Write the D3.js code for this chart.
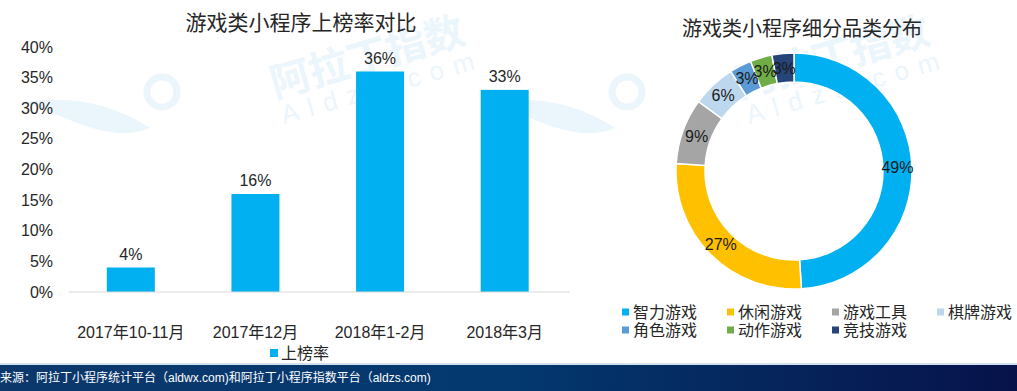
<!DOCTYPE html>
<html>
<head>
<meta charset="utf-8">
<script src="https://cdn.jsdelivr.net/npm/d3@7"></script>
<style>
  body { margin: 0; background: #fff; }
  svg { display: block; font-family: "Liberation Sans", Arial, "Noto Sans CJK SC", sans-serif; }
</style>
</head>
<body>
<div id="chart"></div>
<script>
// bar chart data
const periods = ["2017年10-11月", "2017年12月", "2018年1-2月", "2018年3月"];
const rankRate = [4, 16, 36, 33];
const yTicks = [0, 5, 10, 15, 20, 25, 30, 35, 40];

// donut data
const genres = ["智力游戏", "休闲游戏", "游戏工具", "棋牌游戏", "角色游戏", "动作游戏", "竞技游戏"];
const genreShare = [49, 27, 9, 6, 3, 3, 3];
const genreColors = ["#00b0f0", "#ffc000", "#a5a5a5", "#bdd7ee", "#5b9bd5", "#70ad47", "#264478"];

const W = 1017, H = 391;
const svg = d3.select("#chart").append("svg")
    .attr("width", W)
    .attr("height", H);

// faint watermarks behind the charts
function watermark(dx) {
  const g = svg.append("g").attr("transform", `translate(${dx},0)`).attr("fill", "#ebf5fc");
  g.append("circle")
      .attr("cx", 162).attr("cy", 92).attr("r", 15)
      .attr("fill", "none").attr("stroke", "#ebf5fc").attr("stroke-width", 7);
  g.append("path")
      .attr("d", "M25,102 Q95,92 150,128 Q120,142 65,118 Z");
  g.append("text")
      .attr("transform", "translate(275,98) rotate(-16)")
      .attr("font-size", 40).attr("font-weight", "bold")
      .attr("font-family", "Noto Sans CJK SC")
      .text("阿拉丁指数");
  g.append("text")
      .attr("transform", "translate(284,124) rotate(-16)")
      .attr("font-size", 26).attr("letter-spacing", 10)
      .text("Aldzs.com");
}
watermark(0);
watermark(465);

// ---------- left: bar chart ----------
const x = d3.scaleBand()
    .domain(periods)
    .range([68.5, 567])
    .paddingInner(0.615)
    .paddingOuter(0.3075);

const y = d3.scaleLinear()
    .domain([0, 40])
    .range([292, 47]);

svg.append("text")
    .attr("x", 301).attr("y", 30)
    .attr("text-anchor", "middle")
    .attr("font-size", 21).attr("fill", "#262626")
    .attr("font-family", "Noto Sans CJK SC")
    .text("游戏类小程序上榜率对比");

svg.append("g")
    .selectAll("text")
    .data(yTicks)
    .enter()
    .append("text")
    .attr("x", 53)
    .attr("y", d => y(d))
    .attr("dy", "0.35em")
    .attr("text-anchor", "end")
    .attr("font-size", 16).attr("fill", "#262626")
    .text(d => d + "%");

svg.selectAll(".bar")
    .data(rankRate)
    .enter()
    .append("rect")
    .attr("class", "bar")
    .attr("x", (d, i) => x(periods[i]))
    .attr("width", x.bandwidth())
    .attr("y", d => y(d))
    .attr("height", d => y(0) - y(d))
    .attr("fill", "#00b0f0");

svg.append("line")
    .attr("x1", 68.5).attr("x2", 570)
    .attr("y1", y(0)).attr("y2", y(0))
    .attr("stroke", "#d9d9d9").attr("stroke-width", 1);

svg.selectAll(".barlabel")
    .data(rankRate)
    .enter()
    .append("text")
    .attr("class", "barlabel")
    .attr("x", (d, i) => x(periods[i]) + x.bandwidth() / 2)
    .attr("y", d => y(d) - 8)
    .attr("text-anchor", "middle")
    .attr("font-size", 16).attr("fill", "#262626")
    .text(d => d + "%");

svg.selectAll(".xlabel")
    .data(periods)
    .enter()
    .append("text")
    .attr("class", "xlabel")
    .attr("x", d => x(d) + x.bandwidth() / 2)
    .attr("y", 332)
    .attr("dy", "0.35em")
    .attr("text-anchor", "middle")
    .attr("font-size", 16).attr("fill", "#262626")
    .text(d => d);

svg.append("rect")
    .attr("x", 270).attr("y", 349).attr("width", 8).attr("height", 8)
    .attr("fill", "#00b0f0");
svg.append("text")
    .attr("x", 281).attr("y", 353)
    .attr("dy", "0.35em")
    .attr("font-size", 16).attr("fill", "#262626")
    .text("上榜率");

// ---------- right: donut ----------
const cx = 794, cy = 171;
const outerR = 118, innerR = 89;

svg.append("text")
    .attr("x", 802).attr("y", 36)
    .attr("text-anchor", "middle")
    .attr("font-size", 20).attr("fill", "#262626")
    .attr("font-family", "Noto Sans CJK SC")
    .text("游戏类小程序细分品类分布");

const pie = d3.pie().sort(null).value(d => d);
const arc = d3.arc().innerRadius(innerR).outerRadius(outerR);
const labelArc = d3.arc().innerRadius(103.5).outerRadius(103.5);

const donut = svg.append("g").attr("transform", `translate(${cx},${cy})`);

donut.selectAll("path")
    .data(pie(genreShare))
    .enter()
    .append("path")
    .attr("d", arc)
    .attr("fill", (d, i) => genreColors[i])
    .attr("stroke", "#fff")
    .attr("stroke-width", 1.5);

donut.selectAll("text")
    .data(pie(genreShare))
    .enter()
    .append("text")
    .attr("transform", d => `translate(${labelArc.centroid(d)})`)
    .attr("dy", "0.35em")
    .attr("text-anchor", "middle")
    .attr("font-size", 16).attr("fill", "#1a1a1a")
    .text(d => d.data + "%");

const legend = svg.append("g");
genres.forEach((name, i) => {
  const col = i < 4 ? i : i - 4;
  const row = i < 4 ? 0 : 1;
  const lx = 622 + col * 105;
  const ly = 312 + row * 18;
  legend.append("rect")
      .attr("x", lx).attr("y", ly - 3.5).attr("width", 7).attr("height", 7)
      .attr("fill", genreColors[i]);
  legend.append("text")
      .attr("x", lx + 11).attr("y", ly)
      .attr("dy", "0.35em")
      .attr("font-size", 16).attr("fill", "#262626")
      .text(name);
});

// ---------- footer banner ----------
const defs = svg.append("defs");
const grad = defs.append("linearGradient").attr("id", "banner");
grad.append("stop").attr("offset", "0").attr("stop-color", "#0c386c");
grad.append("stop").attr("offset", "0.5").attr("stop-color", "#03396f");
grad.append("stop").attr("offset", "1").attr("stop-color", "#07124a");

svg.append("rect")
    .attr("x", 0).attr("y", 363).attr("width", W).attr("height", 2)
    .attr("fill", "#d3e1ef");
svg.append("rect")
    .attr("x", 0).attr("y", 365).attr("width", W).attr("height", 26)
    .attr("fill", "url(#banner)");
svg.append("text")
    .attr("x", 0).attr("y", 378)
    .attr("dy", "0.35em")
    .attr("font-size", 12).attr("fill", "#fff")
    .text("来源：阿拉丁小程序统计平台（aldwx.com)和阿拉丁小程序指数平台（aldzs.com)");
</script>
</body>
</html>
